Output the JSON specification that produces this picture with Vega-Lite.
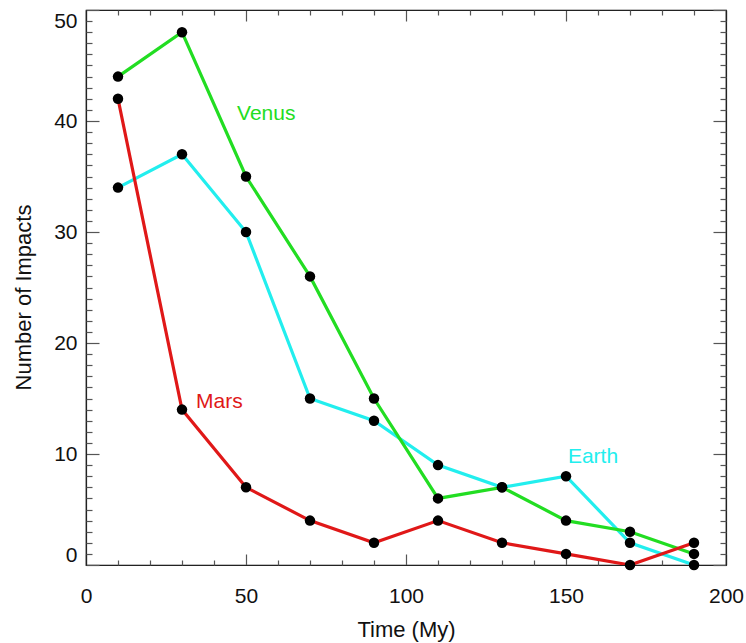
{
  "$schema": "https://vega.github.io/schema/vega-lite/v6.json",
  "width": 640,
  "height": 555,
  "autosize": {"type": "none"},
  "padding": {"left": 86, "top": 10, "right": 20, "bottom": 78},
  "background": "white",
  "config": {
    "view": {"stroke": "#000", "strokeWidth": 1.2},
    "axis": {
      "grid": false,
      "domainColor": "#222",
      "domainWidth": 1.2,
      "tickColor": "#555",
      "tickWidth": 1.2,
      "labelFont": "Liberation Sans",
      "labelFontSize": 21,
      "labelColor": "#111",
      "titleFont": "Liberation Sans",
      "titleFontSize": 22,
      "titleFontWeight": "normal",
      "titleColor": "#111"
    },
    "text": {"font": "Liberation Sans"}
  },
  "datasets": {
    "series": [
      {"t": 10, "planet": "Earth", "n": 34},
      {"t": 30, "planet": "Earth", "n": 37},
      {"t": 50, "planet": "Earth", "n": 30},
      {"t": 70, "planet": "Earth", "n": 15},
      {"t": 90, "planet": "Earth", "n": 13},
      {"t": 110, "planet": "Earth", "n": 9},
      {"t": 130, "planet": "Earth", "n": 7},
      {"t": 150, "planet": "Earth", "n": 8},
      {"t": 170, "planet": "Earth", "n": 2},
      {"t": 190, "planet": "Earth", "n": 0},
      {"t": 10, "planet": "Venus", "n": 44},
      {"t": 30, "planet": "Venus", "n": 48},
      {"t": 50, "planet": "Venus", "n": 35},
      {"t": 70, "planet": "Venus", "n": 26},
      {"t": 90, "planet": "Venus", "n": 15},
      {"t": 110, "planet": "Venus", "n": 6},
      {"t": 130, "planet": "Venus", "n": 7},
      {"t": 150, "planet": "Venus", "n": 4},
      {"t": 170, "planet": "Venus", "n": 3},
      {"t": 190, "planet": "Venus", "n": 1},
      {"t": 10, "planet": "Mars", "n": 42},
      {"t": 30, "planet": "Mars", "n": 14},
      {"t": 50, "planet": "Mars", "n": 7},
      {"t": 70, "planet": "Mars", "n": 4},
      {"t": 90, "planet": "Mars", "n": 2},
      {"t": 110, "planet": "Mars", "n": 4},
      {"t": 130, "planet": "Mars", "n": 2},
      {"t": 150, "planet": "Mars", "n": 1},
      {"t": 170, "planet": "Mars", "n": 0},
      {"t": 190, "planet": "Mars", "n": 2}
    ],
    "labels": [
      {"t": 47.2, "n": 40.6, "planet": "Venus"},
      {"t": 34.4, "n": 14.7, "planet": "Mars"},
      {"t": 150.6, "n": 9.7, "planet": "Earth"}
    ]
  },
  "layer": [
    {
      "data": {"name": "series"},
      "mark": {"type": "line", "strokeWidth": 3.2, "clip": true},
      "encoding": {
        "x": {
          "field": "t", "type": "quantitative",
          "scale": {"domain": [0, 200], "nice": false, "zero": false},
          "axis": {
            "orient": "bottom", "values": [0, 50, 100, 150, 200],
            "tickSize": -11, "labelPadding": 31, "labelFlush": false,
            "title": "Time (My)", "titleX": 320, "titleY": 64, "titleBaseline": "middle", "titleAlign": "center"
          }
        },
        "y": {
          "field": "n", "type": "quantitative",
          "scale": {"domain": [0, 50], "nice": false},
          "axis": {
            "orient": "left", "values": [0, 10, 20, 30, 40, 50],
            "tickSize": -13, "labelPadding": 22, "labelFlush": true,
            "title": "Number of Impacts", "titleX": -63, "titleY": 287, "titleBaseline": "middle", "titleAngle": -90, "titleAlign": "center"
          }
        },
        "color": {
          "field": "planet", "type": "nominal", "legend": null,
          "scale": {"domain": ["Earth", "Venus", "Mars"], "range": ["#22eeee", "#22dd22", "#e01818"]}
        },
        "order": {"field": "t"}
      }
    },
    {
      "data": {"name": "series"},
      "mark": {"type": "point", "filled": true, "color": "#000", "opacity": 1, "size": 110},
      "encoding": {
        "x": {
          "field": "t", "type": "quantitative",
          "axis": {
            "orient": "bottom", "values": [10, 20, 30, 40, 60, 70, 80, 90, 110, 120, 130, 140, 160, 170, 180, 190],
            "tickSize": -5, "labels": false, "domain": true, "domainOpacity": 0, "title": null
          }
        },
        "y": {
          "field": "n", "type": "quantitative",
          "axis": {
            "orient": "left", "values": [1, 2, 3, 4, 5, 6, 7, 8, 9, 11, 12, 13, 14, 15, 16, 17, 18, 19, 21, 22, 23, 24, 25, 26, 27, 28, 29, 31, 32, 33, 34, 35, 36, 37, 38, 39, 41, 42, 43, 44, 45, 46, 47, 48, 49],
            "tickSize": -6, "labels": false, "domain": true, "domainOpacity": 0, "title": null
          }
        }
      }
    },
    {
      "data": {"name": "labels"},
      "mark": {"type": "text", "align": "left", "baseline": "middle", "fontSize": 21},
      "encoding": {
        "x": {
          "field": "t", "type": "quantitative",
          "axis": {"orient": "top", "values": [0, 50, 100, 150, 200], "tickSize": -11, "labels": false, "title": null}
        },
        "y": {
          "field": "n", "type": "quantitative",
          "axis": {"orient": "right", "values": [0, 10, 20, 30, 40, 50], "tickSize": -13, "labels": false, "title": null}
        },
        "text": {"field": "planet"},
        "color": {"field": "planet", "type": "nominal", "legend": null}
      }
    },
    {
      "data": {"name": "labels"},
      "mark": {"type": "point", "opacity": 0},
      "encoding": {
        "x": {
          "field": "t", "type": "quantitative",
          "axis": {
            "orient": "top", "values": [10, 20, 30, 40, 60, 70, 80, 90, 110, 120, 130, 140, 160, 170, 180, 190],
            "tickSize": -5, "labels": false, "domain": true, "domainOpacity": 0, "title": null
          }
        },
        "y": {
          "field": "n", "type": "quantitative",
          "axis": {
            "orient": "right", "values": [1, 2, 3, 4, 5, 6, 7, 8, 9, 11, 12, 13, 14, 15, 16, 17, 18, 19, 21, 22, 23, 24, 25, 26, 27, 28, 29, 31, 32, 33, 34, 35, 36, 37, 38, 39, 41, 42, 43, 44, 45, 46, 47, 48, 49],
            "tickSize": -6, "labels": false, "domain": true, "domainOpacity": 0, "title": null
          }
        }
      }
    }
  ],
  "resolve": {"scale": {"x": "shared", "y": "shared", "color": "shared"}, "axis": {"x": "independent", "y": "independent"}}
}
